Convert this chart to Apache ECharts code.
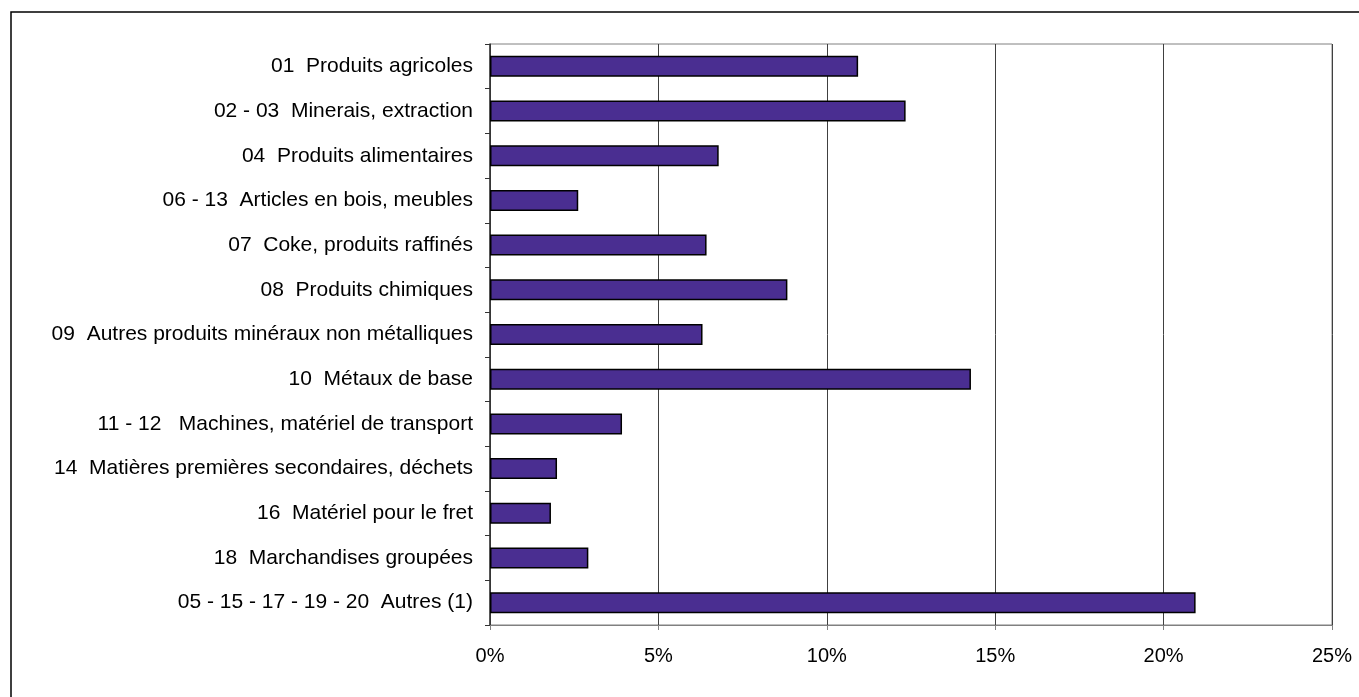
<!DOCTYPE html>
<html>
<head>
<meta charset="utf-8">
<script src="https://cdn.jsdelivr.net/npm/echarts@6/dist/echarts.min.js"></script>
<style>
  html, body { margin: 0; padding: 0; background: #fff; }
  #chart { width: 1359px; height: 697px; }
</style>
</head>
<body>
<div id="chart"></div>
<script>
    // categories, top to bottom
    var categories = [
        "01  Produits agricoles",
        "02 - 03  Minerais, extraction",
        "04  Produits alimentaires",
        "06 - 13  Articles en bois, meubles",
        "07  Coke, produits raffinés",
        "08  Produits chimiques",
        "09  Autres produits minéraux non métalliques",
        "10  Métaux de base",
        "11 - 12   Machines, matériel de transport",
        "14  Matières premières secondaires, déchets",
        "16  Matériel pour le fret",
        "18  Marchandises groupées",
        "05 - 15 - 17 - 19 - 20  Autres (1)"
    ];
    // part en %
    var shares = [10.93, 12.34, 6.79, 2.62, 6.43, 8.83, 6.31, 14.28, 3.92, 1.99, 1.81, 2.92, 20.95];
    var xTicks = [0, 5, 10, 15, 20, 25];

    var myChart = echarts.init(document.getElementById('chart'));
    var font = "'Liberation Sans', Arial, sans-serif";

    myChart.setOption({
        backgroundColor: "#fff",
        animation: false,
        textStyle: { fontFamily: font },
        graphic: [{ // cadre extérieur (coupé à droite et en bas)
            type: "rect",
            silent: true,
            shape: { x: 11, y: 12, width: 1400, height: 720 },
            style: { fill: null, stroke: "#000", lineWidth: 1.5 }
        }],
        grid: {
            left: 490,
            right: 27,
            top: 44,
            bottom: 72,
            show: true,
            borderColor: "#808080",
            borderWidth: 1
        },
        xAxis: {
            type: "value",
            min: xTicks[0],
            max: xTicks[xTicks.length - 1],
            interval: 5,
            axisLine: { show: true, lineStyle: { color: "#808080", width: 1 } },
            axisTick: { show: true, length: 5, lineStyle: { color: "#808080" } },
            splitLine: { show: true, lineStyle: { color: "#404040", width: 1 } },
            axisLabel: {
                margin: 21,
                color: "#000",
                fontSize: 20,
                fontFamily: font,
                formatter: function (v) { return v + "%"; }
            }
        },
        yAxis: {
            type: "category",
            inverse: true,
            data: categories,
            axisLine: { show: true, lineStyle: { color: "#333", width: 1.5 } },
            axisTick: { show: true, length: 5, inside: false, lineStyle: { color: "#333" } },
            splitLine: { show: false },
            axisLabel: {
                margin: 17,
                color: "#000",
                fontSize: 21,
                fontFamily: font
            }
        },
        series: [{
            type: "bar",
            data: shares,
            barWidth: 21,
            itemStyle: {
                color: "#4A2E91",
                borderColor: "#000",
                borderWidth: 1.5
            }
        }]
    });
</script>
</body>
</html>
